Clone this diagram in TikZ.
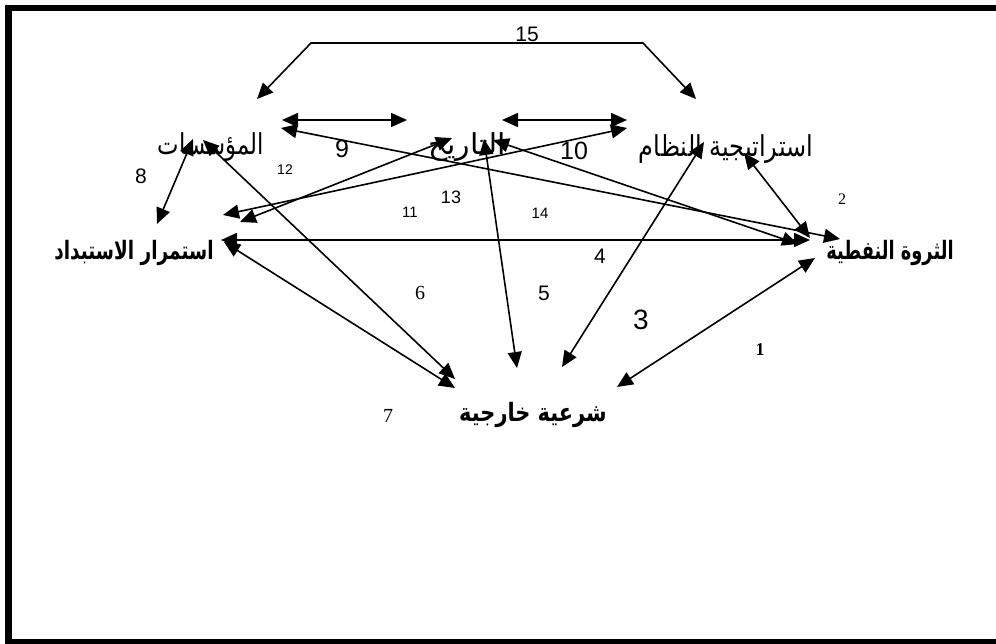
\documentclass[tikz,border=0pt]{standalone}
\usepackage{fontspec}
\setmainfont{Liberation Sans}
\newfontfamily\arabicfont[Script=Arabic]{DejaVu Sans}
\newfontfamily\seriffont{Liberation Serif}
\usetikzlibrary{arrows.meta}
\TeXXeTstate=1
\tikzset{
  link/.style={line width=1.6pt,{Triangle[length=16pt,width=14pt]}-{Triangle[length=16pt,width=14pt]}},
  artext/.style={inner sep=0pt,anchor=base},
  num/.style={inner sep=0pt,anchor=center},
}
\newcommand{\fs}[1]{\fontsize{#1}{#1}\selectfont}
\begin{document}
\begin{tikzpicture}[x=1pt,y=-1pt]
\useasboundingbox (0,0) rectangle (996,644);
\clip (0,0) rectangle (996,644);
\draw[line width=6.7pt] (1100,8) -- (8.4,8) -- (8.4,642.4) -- (1100,642.4);

% concept labels
\node[artext] (mu) at (211,155) {\scalebox{0.95}[1.2]{\arabicfont\fs{24}\beginR المؤسسات\endR}};
\node[artext] (ta) at (467,155) {\scalebox{1.25}[1.2]{\arabicfont\fs{24}\beginR التاريخ\endR}};
\node[artext] (st) at (726,157) {\scalebox{1.0}[1.2]{\arabicfont\fs{24}\beginR استراتيجية النظام\endR}};
\node[artext] (is) at (134,260) {\scalebox{0.84}[1.15]{\arabicfont\bfseries\fs{22}\beginR استمرار الاستبداد\endR}};
\node[artext] (th) at (890,260) {\scalebox{0.81}[1.15]{\arabicfont\bfseries\fs{22}\beginR الثروة النفطية\endR}};
\node[artext] (sh) at (533,421) {\scalebox{0.95}[1.15]{\arabicfont\bfseries\fs{22}\beginR شرعية خارجية\endR}};

% numbers
\node[num] (n15) at (527,34) {\fs{21}15};
\node[num] (n9) at (342,149) {\fs{25}9};
\node[num] (n10) at (574,151) {\fs{25}10};
\node[num] (n8) at (141,176) {\fs{21}8};
\node[num] (n12) at (285,170) {\fs{14}12};
\node[num] (n13) at (451,197) {\fs{18}13};
\node[num] (n11) at (410,212) {\fs{15}11};
\node[num] (n14) at (540,213) {\fs{15}14};
\node[num] (n2) at (842,199) {\seriffont\fs{16}2};
\node[num] (n4) at (600,256) {\fs{21}4};
\node[num] (n5) at (544,293) {\fs{21}5};
\node[num] (n6) at (420,293) {\seriffont\fs{20}6};
\node[num] (n3) at (641,320) {\fs{28}3};
\node[num] (n1) at (760,350) {\seriffont\bfseries\fs{18}1};
\node[num] (n7) at (388,416) {\seriffont\fs{20}7};

% connector end points
\coordinate (a15L) at (257,99);
\coordinate (a15a) at (311,43);
\coordinate (a15b) at (643,43);
\coordinate (a15R) at (696,99);
\coordinate (a9L) at (282,120);
\coordinate (a9R) at (407,120);
\coordinate (a10L) at (502,120);
\coordinate (a10R) at (627,120);
\coordinate (mo1) at (281,128);
\coordinate (mo2) at (840,239);
\coordinate (to1) at (493,140);
\coordinate (to2) at (798,244);
\coordinate (ie1) at (223,215);
\coordinate (ie2) at (627,128);
\coordinate (ie3) at (240,222);
\coordinate (ie4) at (452,138);
\coordinate (s2a) at (744,153);
\coordinate (s2b) at (810,238);
\coordinate (h4a) at (221,240);
\coordinate (h4b) at (810,240);
\coordinate (s3a) at (704,142);
\coordinate (s3b) at (562,367);
\coordinate (t5a) at (484,139);
\coordinate (t5b) at (517,368);
\coordinate (o1a) at (815,258);
\coordinate (o1b) at (617,387);
\coordinate (m6a) at (203,140);
\coordinate (m6b) at (455,379);
\coordinate (e7a) at (224,242);
\coordinate (e7b) at (455,388);
\coordinate (m8a) at (193,139);
\coordinate (m8b) at (157,224);

% connectors
\draw[link] (a15L) -- (a15a) -- (a15b) -- (a15R);
\draw[link] (a9L) -- (a9R);
\draw[link] (a10L) -- (a10R);
\draw[link] (mo1) -- (mo2);
\draw[link] (to1) -- (to2);
\draw[link] (ie1) -- (ie2);
\draw[link] (ie3) -- (ie4);
\draw[link] (s2a) -- (s2b);
\draw[link] (h4a) -- (h4b);
\draw[link] (s3a) -- (s3b);
\draw[link] (t5a) -- (t5b);
\draw[link] (o1a) -- (o1b);
\draw[link] (m6a) -- (m6b);
\draw[link] (e7a) -- (e7b);
\draw[link] (m8a) -- (m8b);
\end{tikzpicture}
\end{document}
